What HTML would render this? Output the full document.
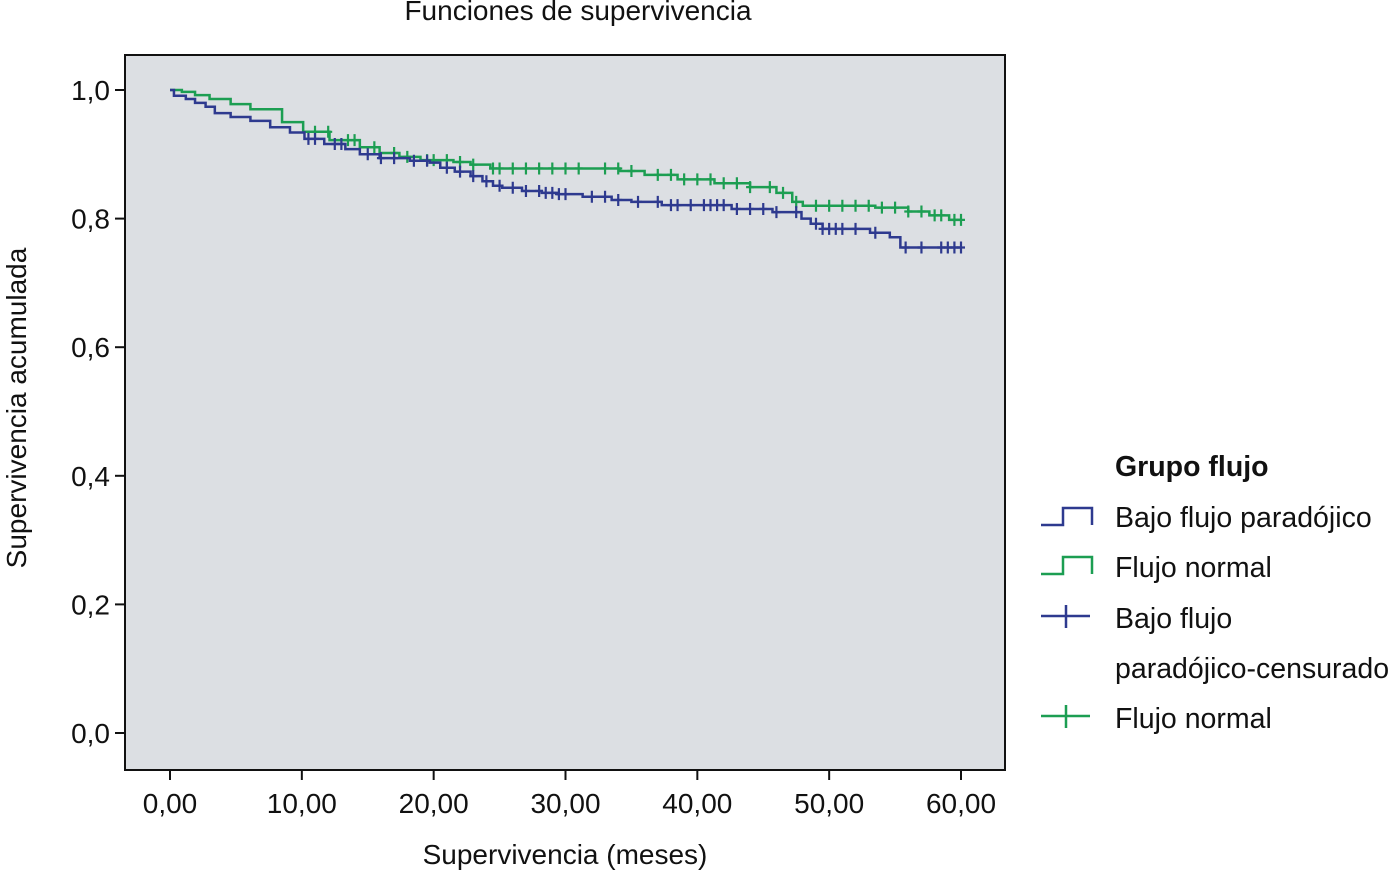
<!DOCTYPE html>
<html><head><meta charset="utf-8"><style>
html,body{margin:0;padding:0;background:#fff;}
svg{display:block;font-family:"Liberation Sans",sans-serif;}
</style></head><body>
<svg id="chart" width="1395" height="870" viewBox="0 0 1395 870">
<text x="578" y="20" font-size="28" text-anchor="middle" fill="#111">Funciones de supervivencia</text>
<rect x="125" y="55" width="880" height="715" fill="#dcdfe3" stroke="#111" stroke-width="2"/>
<g id="axes"></g>
<g id="series"></g>
<text transform="translate(26,408) rotate(-90)" font-size="28" text-anchor="middle" fill="#111">Supervivencia acumulada</text>
<text x="565" y="864" font-size="28" text-anchor="middle" fill="#111">Supervivencia (meses)</text>
<g font-size="28.5" fill="#111">
<text x="1115" y="476" font-weight="bold">Grupo flujo</text>
<g><path d="M1041 525 H1063 V508 H1092 V525" fill="none" stroke="#2e3a8f" stroke-width="2.5"/><text x="1115" y="527">Bajo flujo paradójico</text></g>
<g><path d="M1041 574 H1063 V557 H1092 V574" fill="none" stroke="#1c9e52" stroke-width="2.5"/><text x="1115" y="577">Flujo normal</text></g>
<g><path d="M1041 616 H1090 M1066 605 V628" stroke="#2e3a8f" stroke-width="2.5"/><text x="1115" y="628">Bajo flujo</text><text x="1115" y="678">paradójico-censurado</text></g>
<g><path d="M1041 716 H1090 M1066 705 V728" stroke="#1c9e52" stroke-width="2.5"/><text x="1115" y="728">Flujo normal</text></g>
</g>
</svg>
<script>
const xTicks=[0,10,20,30,40,50,60];
const xTickLabels=["0,00","10,00","20,00","30,00","40,00","50,00","60,00"];
const yTicks=[0,0.2,0.4,0.6,0.8,1.0];
const yTickLabels=["0,0","0,2","0,4","0,6","0,8","1,0"];
const blueTimes=[0,0.3,1.2,1.9,2.7,3.4,4.6,6.1,7.6,9.1,10.2,11.7,13.3,14.4,15.9,18.2,19.7,20.5,21.6,22.8,23.7,24.5,25.2,26.7,28.2,29.4,31.3,33.5,35.0,37.3,42.6,45.7,47.9,48.6,49.5,53.1,54.6,55.4];
const blueSurv=[1,0.991,0.986,0.980,0.974,0.964,0.958,0.952,0.942,0.934,0.924,0.916,0.908,0.900,0.894,0.890,0.887,0.879,0.873,0.866,0.858,0.851,0.848,0.843,0.840,0.838,0.834,0.829,0.826,0.821,0.815,0.810,0.800,0.792,0.784,0.778,0.771,0.755];
const greenTimes=[0,0.9,1.9,3.0,4.6,6.1,8.5,10.1,12.1,14.4,15.9,17.4,19.0,21.5,22.8,24.3,34.1,36.0,38.5,41.3,44.0,46.0,47.2,48.0,53.5,56.0,57.6,59.1];
const greenSurv=[1,0.997,0.992,0.986,0.978,0.970,0.950,0.935,0.922,0.911,0.902,0.896,0.891,0.888,0.884,0.878,0.874,0.868,0.861,0.855,0.849,0.840,0.826,0.820,0.817,0.811,0.805,0.798];
const blueCensor=[10.5,11,12.5,13,15,16,17,18.5,19.5,21,22,23,24,25,26,27,28,28.5,29,29.5,30,32,33,34,35.5,37,38,38.5,39.5,40.5,41,41.5,42,43,44,45,46,47.5,49,49.5,50,50.5,51,52,53.5,55.8,57,58.5,59,59.5,60];
const greenCensor=[11,12,13.5,14,15.5,17,18,19.5,20,21,22,23,24.5,25,26,27,28,29,30,31,33,34,35,37,38,39,40,41,42,43,44,45.5,46.5,47.5,49,50,51,52,53,54,55,56,57,58,58.5,59.5,60];
const X=t=>170+t*(961-170)/60;
const Y=s=>733-s*(733-90);
const NS="http://www.w3.org/2000/svg";
function mk(tag,attrs,parent){const e=document.createElementNS(NS,tag);for(const k in attrs)e.setAttribute(k,attrs[k]);parent.appendChild(e);return e;}
const axes=document.getElementById('axes');
xTicks.forEach((t,i)=>{
  const l=mk('line',{x1:X(t),x2:X(t),y1:770,y2:780,stroke:'#111','stroke-width':2},axes);
  
  
  const tx=mk('text',{x:X(t),y:813,'font-size':28,'text-anchor':'middle',fill:'#111'},axes);
  tx.textContent=xTickLabels[i];
  
  
});
yTicks.forEach((s,i)=>{
  const l=mk('line',{x1:115,x2:125,y1:Y(s),y2:Y(s),stroke:'#111','stroke-width':2},axes);
  
  
  const tx=mk('text',{x:110,y:Y(s)+10,'font-size':28,'text-anchor':'end',fill:'#111'},axes);
  tx.textContent=yTickLabels[i];
  
  
});
const series=document.getElementById('series');
function survAt(times,surv,t){let s=surv[0];for(let i=0;i<times.length;i++){if(times[i]<=t)s=surv[i];}return s;}
function draw(times,surv,censor,color,name,end){
  let d=`M${X(0)} ${Y(surv[0])}`;
  for(let i=1;i<times.length;i++){d+=` H${X(times[i])} V${Y(surv[i])}`;}
  d+=` H${X(end)}`;
  const p=mk('path',{d:d,fill:'none',stroke:color,'stroke-width':2.5},series);
  
  
  censor.forEach(t=>{
    const y=Y(survAt(times,surv,t)),x=X(t);
    const c=mk('path',{d:`M${x} ${y-6} V${y+6} M${x-4} ${y} H${x+4}`,stroke:color,'stroke-width':2.2},series);
    
    
  });
}
draw(greenTimes,greenSurv,greenCensor,'#1c9e52','flujo-normal',60);
draw(blueTimes,blueSurv,blueCensor,'#2e3a8f','bajo-flujo',60);
</script>
</body></html>
